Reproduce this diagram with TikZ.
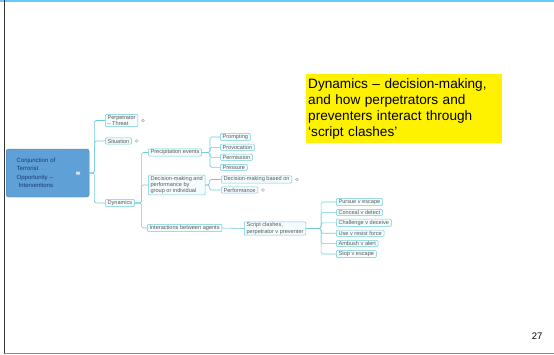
\documentclass[tikz,border=0pt]{standalone}
\usepackage{fontspec}
\setmainfont{Liberation Sans}
\usetikzlibrary{positioning}
\definecolor{mapline}{RGB}{110,205,215}
\definecolor{rootblue}{RGB}{95,160,215}
\definecolor{roottext}{RGB}{25,55,115}
\definecolor{topblue}{RGB}{105,200,250}
\tikzset{
  topic/.style={draw=mapline, fill=cyan!4, rounded corners=1pt, inner xsep=2.3pt, inner ysep=1pt,
    font=\fontsize{5.6}{6.2}\selectfont, text=black!65, align=left, anchor=west, line width=0.5pt},
  branch/.style={draw=mapline, line width=0.6pt, rounded corners=1.5pt},
  fold/.style={circle, draw=black!30, fill=black!10, inner sep=0pt, minimum size=3.2pt},
}
\begin{document}
\begin{tikzpicture}[x=1pt, y=-1pt, line join=round, line cap=round]
\useasboundingbox (0,0) rectangle (554,354);
% slide frame
\fill[topblue] (0,0) rectangle (554,2.2);
\draw[black!80, line width=0.8pt] (4,0) -- (4,354);
\draw[black!45, line width=1pt] (4,353) -- (554,353);
% root
\node[draw=rootblue!80!black, fill=rootblue, rounded corners=2.5pt, anchor=west, minimum width=83pt, minimum height=48pt,
  text width=62pt, align=left, font=\fontsize{6}{8.3}\selectfont, text=roottext, inner xsep=0pt] (root) at (6,173)
  {Conjunction of\\Terrorist\\Opportunity --\\\ Interventions};
\node[fold, fill=white!70!rootblue, draw=none, rounded corners=0.5pt, rectangle, minimum width=4pt, minimum height=3pt] (rootfold) at (78,173) {};
% first level
\node[topic] (perp) at (105,120.5) {Perpetrator\\-- Threat};
\node[topic] (sit) at (105,141) {Situation};
\node[topic] (dyn) at (105,203) {Dynamics};
\node[fold, right=3pt of perp] (perpfold) {};
\node[fold, right=3pt of sit] (sitfold) {};
\draw[branch] (root.east) -- ++(5,0) |- (perp.west);
\draw[branch] (root.east) -- ++(5,0) |- (sit.west);
\draw[branch] (root.east) -- ++(5,0) |- (dyn.west);
% dynamics
\node[topic] (prec) at (148,152.5) {Precipitation events};
\node[topic] (dec) at (148,185) {Decision-making and\\performance by\\group or individual};
\node[topic] (inter) at (147,228) {Interactions between agents};
\foreach \c in {prec,dec,inter}
  \draw[branch] (dyn.east) -- ++(7,0) |- (\c.west);
% precipitation events
\node[topic] (prompt) at (220,137) {Prompting};
\node[topic] (provo) at (220,147.3) {Provocation};
\node[topic] (permit) at (220,157.3) {Permission};
\node[topic] (press) at (220,167.3) {Pressure};
\foreach \c in {prompt,provo,permit,press}
  \draw[branch] (prec.east) -- ++(8,0) |- (\c.west);
% decision-making
\node[topic] (based) at (221,179.5) {Decision-making based on};
\node[topic] (perf) at (221,190) {Performance};
\node[fold, right=3pt of based] (basedfold) {};
\node[fold, right=3pt of perf] (perffold) {};
\foreach \c in {based,perf}
  \draw[branch] (dec.east) -- ++(4,0) |- (\c.west);
% interactions
\node[topic] (script) at (244,228.5) {Script clashes,\\perpetrator v preventer};
\draw[branch] (inter.east) -- (script.west);
\foreach \n/\t [count=\i from 0] in {pursue/Pursue v escape, conceal/Conceal v detect, challenge/Challenge v deceive,
    force/Use v resist force, ambush/Ambush v alert, stop/Stop v escape}{
  \node[topic] (\n) at (336,{202+10.4*\i}) {\t};
  \draw[branch] (script.east) -- ++(15,0) |- (\n.west);
}
% note
\node[fill=yellow, anchor=north west, minimum width=196pt, minimum height=69pt, text width=192pt, align=left,
  inner xsep=2pt, inner ysep=3pt, font=\fontsize{13.6}{16}\selectfont] (note) at (306,74)
  {Dynamics -- decision-making,\\and how perpetrators and\\preventers interact through\\`script clashes'};
\node[anchor=base east, font=\fontsize{9.5}{11}\selectfont] (page) at (546,339) {27};
\end{tikzpicture}
\end{document}
